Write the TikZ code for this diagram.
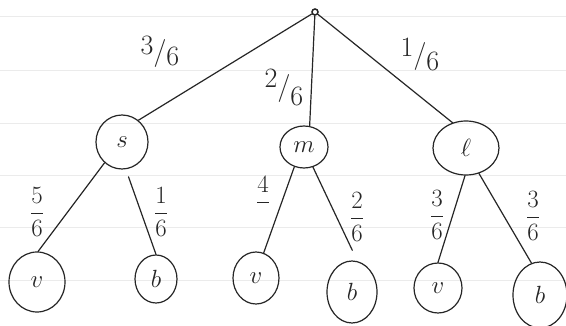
\documentclass[tikz,border=0pt]{standalone}
\usetikzlibrary{shapes.geometric}
\begin{document}
\begin{tikzpicture}[x=1pt,y=-1pt,
  pen/.style={draw=black!85, line width=1.2pt},
  vertex/.style={ellipse, pen, inner sep=0pt, text=black!85, font=\fontsize{30}{32}\selectfont},
  edge/.style={pen, line cap=round},
  prob/.style={inner sep=0pt, text=black!85, font=\fontsize{27}{29}\selectfont},
  probtop/.style={inner sep=0pt, text=black!85, font=\fontsize{28}{30}\selectfont},
  ruling/.style={draw=black!8, line width=0.8pt}]
\useasboundingbox (0,0) rectangle (566,326);
\fill[white] (0,0) rectangle (566,326);
% ruled paper
\foreach \y in {16,70,123,175,227,280} \draw[ruling] (0,\y) -- (566,\y);

% tree nodes
\node[circle, pen, line width=1.5pt, minimum size=6pt, inner sep=0pt] (root) at (315,12) {};
\node[vertex, minimum width=52pt, minimum height=54pt] (s)  at (122,142) {$s$};
\node[vertex, minimum width=48pt, minimum height=42pt] (m)  at (304,147) {$m$};
\node[vertex, minimum width=66pt, minimum height=54pt] (l)  at (466,148) {$\ell$};
\node[vertex, minimum width=56pt, minimum height=60pt] (v1) at (37,282)  {$v$};
\node[vertex, minimum width=42pt, minimum height=48pt] (b1) at (156,279) {$b$};
\node[vertex, minimum width=46pt, minimum height=52pt] (v2) at (256,278) {$v$};
\node[vertex, minimum width=50pt, minimum height=62pt] (b2) at (352,292) {$b$};
\node[vertex, minimum width=48pt, minimum height=50pt] (v3) at (438,288) {$v$};
\node[vertex, minimum width=54pt, minimum height=66pt] (b3) at (540,295) {$b$};

% branches
\draw[edge] (root) -- (s.53);
\draw[edge] (root) -- (m.75);
\draw[edge] (root) -- (l.118);
\draw[edge] (s.-130) -- (v1.88);
\draw[edge, shorten <=8pt] (s.-82) -- (b1.90);
\draw[edge] (m.-116) -- (v2.73);
\draw[edge, shorten >=12pt] (m.-66) -- (b2.80);
\draw[edge] (l.-92) -- (v3.90);
\draw[edge] (l.-63) -- (b3.105);

% branch probabilities
\node[probtop] (p1) at (160,52) {\raisebox{6pt}{3}/\raisebox{-5pt}{6}};
\node[probtop] (p2) at (284,87) {\raisebox{8pt}{2}/\raisebox{-10pt}{6}};
\node[probtop] (p3) at (420,54) {\raisebox{7pt}{1}/\raisebox{-7pt}{6}};
\node[prob] (q1) at (37,212)  {$\displaystyle\frac{5}{6}$};
\node[prob] (q2) at (161,212) {$\displaystyle\frac{1}{6}$};
\node[prob] (q3) at (263,201) {$\displaystyle\frac{4}{\phantom{6}}$};
\node[prob] (q4) at (357,217) {$\displaystyle\frac{2}{6}$};
\node[prob] (q5) at (437,215) {$\displaystyle\frac{3}{6}$};
\node[prob] (q6) at (533,216) {$\displaystyle\frac{3}{6}$};
\end{tikzpicture}
\end{document}
